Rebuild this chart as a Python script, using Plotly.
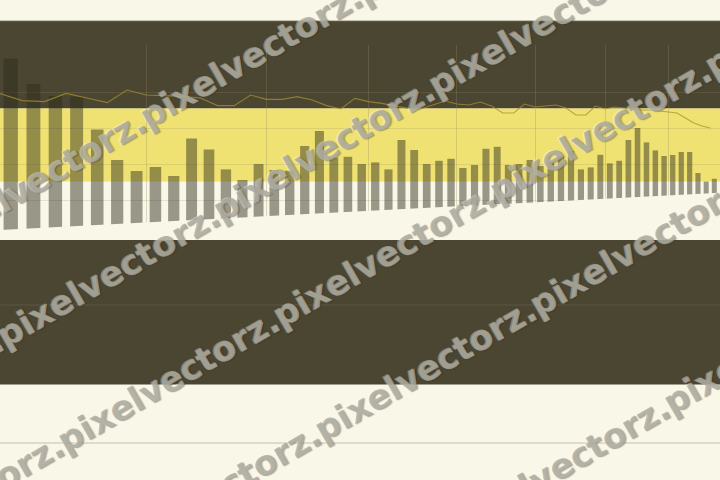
import plotly.graph_objects as go
import math

# ---- data ----
days = list(range(29, 84))  # 55 periods

bar_values = [90.8, 78, 72, 71.6, 55.3, 40, 34.5, 36.5, 32, 50.8,
              45.2, 35.3, 30, 38, 35, 34.6, 47, 54.5, 41.2, 41.6,
              38, 38.8, 35.3, 50, 45, 38, 39.6, 40.6, 36, 37.5,
              45.6, 46.6, 37.5, 38, 40, 37, 39, 42, 44.5, 35.3,
              36.3, 42.6, 38.3, 39.6, 50, 56, 48.8, 44.8, 42, 42.5,
              44, 44, 33.5, 29.2, 30.6]

line_values = [73.3, 69.7, 69.2, 73.3, 71, 68.7, 75, 72.5, 72.2, 71.8,
               71, 67.2, 67.2, 72.5, 70.3, 70.3, 71.7, 70, 67.2, 65.5,
               70.8, 69.2, 68.3, 67, 65.8, 65.5, 67.5, 69.5, 68, 67.5,
               69, 67, 63.5, 63.5, 68, 66.5, 67, 67.5, 66, 62.5,
               62.5, 67, 65.5, 66.5, 66, 65.5, 65, 65, 64.5, 64,
               63.5, 61, 58.5, 57, 56]

week_marks = [35.5, 42.5, 49.5, 56.5, 63.5, 70.5, 77.5]
y_grid = [20, 38, 56, 74]

W, H = 720, 480
CREAM = "#F8F7E8"
DARK = "#4B4632"
YELLOW = "#EFE272"

def py(p):  # pixel row -> paper y
    return 1 - p / H

fig = go.Figure()
fig.add_trace(go.Bar(x=days, y=bar_values,
                     marker=dict(color="rgba(46,42,28,0.47)", line=dict(width=0)),
                     hoverinfo="skip"))
fig.add_trace(go.Scatter(x=[d - 0.5 for d in days], y=line_values, mode="lines",
                         line=dict(color="rgba(165,145,45,0.75)", width=1.1),
                         hoverinfo="skip"))

shapes = []
for top, bot, col in [(21, 108.5, DARK), (108.5, 181.5, YELLOW), (240, 384.5, DARK)]:
    shapes.append(dict(type="rect", xref="paper", yref="paper", x0=0, x1=1,
                       y0=py(bot), y1=py(top), fillcolor=col, line=dict(width=0),
                       layer="below"))
shapes.append(dict(type="line", xref="paper", yref="paper", x0=0, x1=1,
                   y0=py(21), y1=py(21), line=dict(color="rgba(120,114,90,0.8)", width=1),
                   layer="below"))
shapes.append(dict(type="line", xref="paper", yref="paper", x0=0, x1=1,
                   y0=py(443), y1=py(443), line=dict(color="#C4C0AA", width=1),
                   layer="below"))
shapes.append(dict(type="line", xref="paper", yref="paper", x0=0, x1=1,
                   y0=py(305), y1=py(305), line=dict(color="rgba(110,104,80,0.5)", width=1),
                   layer="below"))
shapes.append(dict(type="path", xref="paper", yref="paper",
                   path=f"M 0 {py(229.9)} L 1 {py(192.7)} L 1 {py(240)} L 0 {py(240)} Z",
                   fillcolor=CREAM, line=dict(width=0), layer="above"))

annotations = []
rows = [(-73, 245), (0, 338), (60, 443), (101, 557), (450, 530)]
for x0, y0 in rows:
    for k in range(-1, 5):
        px = x0 + k * 216
        pyy = y0 - k * 125
        cx, cy = px + 108, pyy - 62.5
        if -150 < cx < W + 150 and -100 < cy < H + 100:
            annotations.append(dict(text="pixelvectorz.", x=cx / W, y=py(cy),
                                    xref="paper", yref="paper", showarrow=False,
                                    textangle=-30, xanchor="center", yanchor="middle",
                                    font=dict(family="DejaVu Sans", size=34.5, weight="bold",
                                              color="rgba(172,170,158,0.76)",
                                              shadow="-1px -1px 0px rgba(255,255,250,0.45), 1px 1px 1px rgba(40,36,25,0.45)")))

fig.update_layout(
    width=W, height=H,
    margin=dict(l=0, r=0, t=0, b=0),
    paper_bgcolor=CREAM, plot_bgcolor="rgba(0,0,0,0)",
    showlegend=False, bargap=0.38,
    shapes=shapes, annotations=annotations,
    xaxis=dict(type="log", range=[math.log10(28.536), math.log10(83.71)],
               tickvals=week_marks, showticklabels=False, ticks="",
               showgrid=True, gridcolor="rgba(150,140,100,0.3)", gridwidth=1,
               zeroline=False, showline=False),
    yaxis=dict(domain=[0.5, 1 - 45 / H], range=[0, 97.5],
               tickvals=y_grid, showticklabels=False, ticks="",
               showgrid=True, gridcolor="rgba(150,140,100,0.22)", gridwidth=1,
               zeroline=False, showline=False),
)

fig.write_html("out.html", config={"staticPlot": True},
               post_script="document.body.style.margin='0';document.body.style.overflow='hidden';")
